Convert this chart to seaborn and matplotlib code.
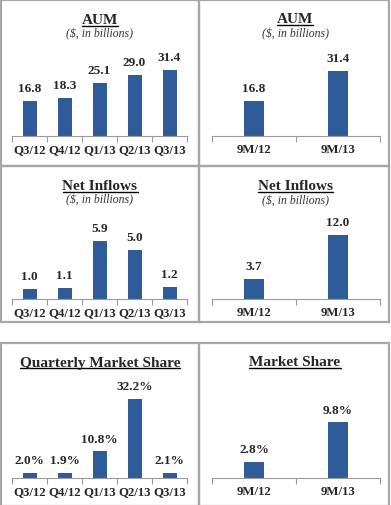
import seaborn as sns
import matplotlib.pyplot as plt
import matplotlib.patches as patches
from matplotlib.lines import Line2D
import pandas as pd

quarters = ['Q3/12', 'Q4/12', 'Q1/13', 'Q2/13', 'Q3/13']
periods = ['9M/12', '9M/13']

aum_quarterly = [16.8, 18.3, 25.1, 29.0, 31.4]
aum_9m = [16.8, 31.4]
inflows_quarterly = [1.0, 1.1, 5.9, 5.0, 1.2]
inflows_9m = [3.7, 12.0]
share_quarterly = [2.0, 1.9, 10.8, 32.2, 2.1]
share_9m = [2.8, 9.8]

W, H = 391, 506
BAR = '#2F5C98'
SERIF = 'Liberation Serif'

sns.set_theme(style='white')
plt.rcParams['font.family'] = [SERIF, 'DejaVu Serif']

fig = plt.figure(figsize=(W / 100, H / 100), dpi=100)


def px_rect(left, top, right, bottom):
    return [left / W, 1 - bottom / H, (right - left) / W, (bottom - top) / H]


# panel boxes
for (l, t, r, b) in [(1, 1, 199, 167), (199, 1, 389, 167),
                     (1, 167, 199, 323), (199, 167, 389, 323),
                     (1, 344, 199, 507), (199, 344, 389, 507)]:
    fig.add_artist(patches.Rectangle((l / W, 1 - b / H), (r - l) / W, (b - t) / H,
                                     transform=fig.transFigure, fill=False,
                                     edgecolor='#A6A6A6', linewidth=1.6))

titles = []


def panel(cats, vals, rect, ymax, width, title, base_y, cx, fmt, subtitle=None, sub_y=None):
    ax = fig.add_axes(px_rect(*rect))
    df = pd.DataFrame({'cat': cats, 'val': vals})
    sns.barplot(data=df, x='cat', y='val', ax=ax, color=BAR, width=width,
                saturation=1, edgecolor='none')
    n = len(cats)
    ax.set_xlim(-0.5, n - 0.5)
    ax.set_ylim(0, ymax)
    ax.set_yticks([])
    ax.set_xlabel('')
    ax.set_ylabel('')
    for s in ['top', 'left', 'right']:
        ax.spines[s].set_visible(False)
    ax.spines['bottom'].set_color('#9A9A9A')
    ax.spines['bottom'].set_linewidth(0.8)
    ax.set_xticks([i - 0.5 for i in range(n + 1)], minor=True)
    ax.tick_params(axis='x', which='minor', bottom=True, length=4, width=0.8,
                   color='#9A9A9A', direction='out')
    ax.tick_params(axis='x', which='major', length=0, pad=5)
    for lab in ax.get_xticklabels():
        lab.set_fontweight('bold')
        lab.set_fontsize(9.2)
        lab.set_fontfamily(SERIF)
    ax.bar_label(ax.containers[0], labels=[fmt.format(v) for v in vals],
                 padding=5, fontsize=9.5, fontweight='bold', family=SERIF)
    t = fig.text(cx / W, 1 - base_y / H, title, ha='center', va='baseline',
                 fontsize=11, fontweight='bold', family=SERIF)
    titles.append((t, base_y))
    if subtitle:
        fig.text(cx / W, 1 - sub_y / H, subtitle, ha='center', va='center',
                 fontsize=8.5, style='italic', family=SERIF, color='#333333')
    return ax


panel(quarters, aum_quarterly, (12, 63.5, 187, 137), 35, 0.4,
      'AUM', 24, 100, '{:.1f}', '($, in billions)', 34.5)
panel(periods, aum_9m, (212, 64, 380, 137), 35, 0.23,
      'AUM', 23, 295, '{:.1f}', '($, in billions)', 34)
panel(quarters, inflows_quarterly, (12, 231, 187, 300), 7, 0.4,
      'Net Inflows', 190, 100, '{:.1f}', '($, in billions)', 200.5)
panel(periods, inflows_9m, (212, 225, 380, 300), 14, 0.23,
      'Net Inflows', 190, 295, '{:.1f}', '($, in billions)', 201)
panel(quarters, share_quarterly, (12, 393, 187, 479), 35, 0.4,
      'Quarterly Market Share', 366.5, 100, '{:.1f}%')
panel(periods, share_9m, (212, 411, 380, 479), 12, 0.23,
      'Market Share', 366.5, 295, '{:.1f}%')

# underline the titles just below the baseline
fig.canvas.draw()
renderer = fig.canvas.get_renderer()
for t, base_y in titles:
    bb = t.get_window_extent(renderer).transformed(fig.transFigure.inverted())
    y = 1 - (base_y + 2.6) / H
    fig.add_artist(Line2D([bb.x0, bb.x1], [y, y], transform=fig.transFigure,
                          color='black', linewidth=1.0))

fig.savefig('out.png', dpi=100)
